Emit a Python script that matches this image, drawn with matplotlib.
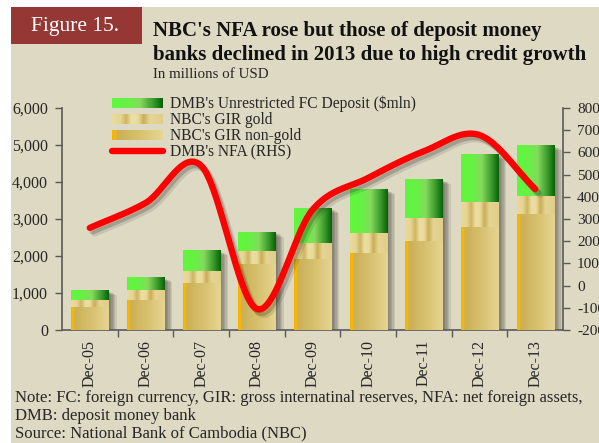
import numpy as np
import matplotlib
matplotlib.use('Agg')
import matplotlib.pyplot as plt
from matplotlib.patches import Rectangle, Patch
from matplotlib.lines import Line2D
from matplotlib.legend_handler import HandlerBase
from matplotlib.colors import to_rgb
import matplotlib.patheffects as pe
from matplotlib.ticker import FuncFormatter

# ---------------- data ----------------
categories = ['Dec-05', 'Dec-06', 'Dec-07', 'Dec-08', 'Dec-09',
              'Dec-10', 'Dec-11', 'Dec-12', 'Dec-13']
gir_nongold = [620, 810, 1280, 1790, 1920, 2080, 2410, 2780, 3135]
gir_gold = [190, 270, 310, 340, 420, 530, 630, 680, 485]
dmb_fc_deposit = [270, 350, 570, 520, 960, 1200, 1040, 1300, 1380]
dmb_nfa = [260, 372, 540, -105, 341, 485, 605, 678, 435]
left_ticks = [0, 1000, 2000, 3000, 4000, 5000, 6000]
right_ticks = [-200, -100, 0, 100, 200, 300, 400, 500, 600, 700, 800]
legend_labels = ["DMB's Unrestricted FC Deposit ($mln)", "NBC's GIR gold",
                 "NBC's GIR non-gold", "DMB's NFA (RHS)"]

# ---------------- style ----------------
plt.rcParams['font.family'] = ['Liberation Serif', 'DejaVu Serif']
BG = '#DDD9C3'
RED_BOX = '#953735'
AX_COL = '#595959'
TXT = '#262626'
W, H = 599, 443

GREEN = [(0.0, '#5EF83C'), (0.35, '#6AEE48'), (0.55, '#86D85E'),
         (0.8, '#3C9C2C'), (1.0, '#066206')]
GOLD = [(0.0, '#E9DA9C'), (0.15, '#E6D592'), (0.27, '#CDB462'),
        (0.38, '#ECDEA2'), (0.5, '#EADB9C'), (0.62, '#C9AE58'),
        (0.75, '#E5D494'), (1.0, '#E0CE88')]
NONGOLD = [(0.0, '#F7B400'), (0.07, '#F5B808'), (0.1, '#CBAF58'),
           (0.5, '#D6BF6C'), (1.0, '#E6D592')]


def grad_colors(stops, n=256):
    pos = np.array([s[0] for s in stops])
    cols = np.array([to_rgb(s[1]) for s in stops])
    t = np.linspace(0, 1, n)
    return np.stack([np.interp(t, pos, cols[:, k]) for k in range(3)], axis=1)


class GradHandler(HandlerBase):
    def __init__(self, stops, n=48):
        super().__init__()
        self.stops = stops
        self.n = n

    def create_artists(self, legend, orig_handle, xdescent, ydescent,
                       width, height, fontsize, trans):
        cols = grad_colors(self.stops, self.n)
        arts = []
        for i in range(self.n):
            r = Rectangle((-xdescent + width * i / self.n, -ydescent),
                          width / self.n * 1.1, height, facecolor=cols[i],
                          edgecolor='none', transform=trans)
            arts.append(r)
        return arts


def catmull_rom(ys, n=40):
    ys = np.asarray(ys, dtype=float)
    m = np.zeros_like(ys)
    m[1:-1] = (ys[2:] - ys[:-2]) / 2.0
    m[0] = ys[1] - ys[0]
    m[-1] = ys[-1] - ys[-2]
    xs_out, ys_out = [], []
    for i in range(len(ys) - 1):
        t = np.linspace(0, 1, n, endpoint=(i == len(ys) - 2))
        h00 = 2 * t**3 - 3 * t**2 + 1
        h10 = t**3 - 2 * t**2 + t
        h01 = -2 * t**3 + 3 * t**2
        h11 = t**3 - t**2
        xs_out.append(i + t)
        ys_out.append(h00 * ys[i] + h10 * m[i] + h01 * ys[i + 1] + h11 * m[i + 1])
    return np.concatenate(xs_out), np.concatenate(ys_out)


fig = plt.figure(figsize=(W / 100, H / 100), dpi=100)
fig.patch.set_facecolor('white')
fig.add_artist(Rectangle((11 / W, 0), 1 - 11 / W, 1 - 7 / H,
                         transform=fig.transFigure, facecolor=BG,
                         edgecolor='none', zorder=-10))
fig.add_artist(Rectangle((11 / W, 1 - 44 / H), 131 / W, 37 / H,
                         transform=fig.transFigure, facecolor=RED_BOX,
                         edgecolor='none', zorder=-9))
fig.text(75 / W, 1 - 26 / H, 'Figure 15.', color='white', fontsize=15.5,
         ha='center', va='center')
fig.text(153 / W, 1 - 31 / H, "NBC's NFA rose but those of deposit money",
         fontsize=15, fontweight='bold', color='#111111', va='center')
fig.text(153 / W, 1 - 55 / H, "banks declined in 2013 due to high credit growth",
         fontsize=15, fontweight='bold', color='#111111', va='center')
fig.text(153 / W, 1 - 74 / H, 'In millions of USD', fontsize=10.8,
         color=TXT, va='center')

notes = ["Note: FC: foreign currency, GIR: gross internatinal reserves, NFA: net foreign assets,",
         "DMB: deposit money bank",
         "Source: National Bank of Cambodia (NBC)"]
for txt, yy in zip(notes, [398, 415.5, 433]):
    fig.text(15 / W, 1 - yy / H, txt, fontsize=12, color=TXT, va='center')

ax = fig.add_axes([62 / W, 1 - 330 / H, 501 / W, 222 / H])
ax.set_facecolor('none')
x = np.arange(len(categories))
bw = 0.665
ng = np.array(gir_nongold, float)
gd = np.array(gir_gold, float)
fc = np.array(dmb_fc_deposit, float)
total = ng + gd + fc

shadow_fx = [pe.SimplePatchShadow(offset=(o, -o * 0.6), shadow_rgbFace='black', alpha=0.09)
             for o in (1, 2, 3, 4, 5, 6)]
ax.bar(x, total, bw, color=BG, zorder=1, path_effects=shadow_fx)

segs = [(ax.bar(x, ng, bw, color='#D6BF6C', zorder=2), NONGOLD),
        (ax.bar(x, gd, bw, bottom=ng, color='#E6D592', zorder=2), GOLD),
        (ax.bar(x, fc, bw, bottom=ng + gd, color='#6AEE48', zorder=2), GREEN)]
for bars, stops in segs:
    img = grad_colors(stops)[np.newaxis, :, :]
    for p in bars:
        x0, y0, ww, hh = p.get_x(), p.get_y(), p.get_width(), p.get_height()
        im = ax.imshow(img, extent=[x0, x0 + ww, y0, y0 + hh], aspect='auto',
                       interpolation='bilinear', zorder=3)
        im.set_clip_path(p)

ax.set_xlim(-0.5, len(categories) - 0.5)
ax.set_ylim(0, 6000)
ax.set_yticks(left_ticks)
ax.yaxis.set_major_formatter(FuncFormatter(lambda v, p: f'{v:,.0f}'))
ax.set_xticks(x)
ax.set_xticklabels(categories, rotation=90)
ax.set_xticks(np.arange(0.5, len(categories) - 1, 1.0), minor=True)
ax.tick_params(axis='x', which='major', length=0, pad=7, labelsize=11.5,
               labelcolor=TXT)
ax.tick_params(axis='x', which='minor', length=5, direction='out',
               color=AX_COL, width=1)
ax.tick_params(axis='y', length=5, direction='out', color=AX_COL, width=1,
               pad=5, labelsize=11.5, labelcolor=TXT)
for s in ['top', 'right']:
    ax.spines[s].set_visible(False)
for s in ['left', 'bottom']:
    ax.spines[s].set_color(AX_COL)
    ax.spines[s].set_linewidth(1.2)

ax2 = ax.twinx()
ax2.set_facecolor('none')
xs_s, ys_s = catmull_rom(dmb_nfa)
line_fx = [pe.SimpleLineShadow(offset=(2, -2.5), shadow_color='black', alpha=0.18),
           pe.SimpleLineShadow(offset=(3.5, -4), shadow_color='black', alpha=0.10),
           pe.Normal()]
ax2.plot(xs_s, ys_s, color='#FF0000', lw=4.6, solid_capstyle='round',
         zorder=5, path_effects=line_fx)
ax2.set_ylim(-200, 800)
ax2.set_yticks(right_ticks)
ax2.set_yticklabels([str(v) for v in right_ticks])
ax2.tick_params(axis='y', length=5, direction='out', color=AX_COL, width=1,
                pad=5, labelsize=11, labelcolor=TXT)
for s in ['top', 'left', 'bottom']:
    ax2.spines[s].set_visible(False)
ax2.spines['right'].set_color(AX_COL)
ax2.spines['right'].set_linewidth(1.2)

h_fc = Patch(label=legend_labels[0])
h_gd = Patch(label=legend_labels[1])
h_ng = Patch(label=legend_labels[2])
h_ln = Line2D([], [], color='#FF0000', lw=4.6, solid_capstyle='round',
              label=legend_labels[3])
ax2.legend(handles=[h_fc, h_gd, h_ng, h_ln],
           handler_map={h_fc: GradHandler(GREEN), h_gd: GradHandler(GOLD),
                        h_ng: GradHandler(NONGOLD)},
           loc='upper left', bbox_to_anchor=(112 / W, 1 - 96 / H),
           bbox_transform=fig.transFigure, frameon=False, borderpad=0,
           borderaxespad=0, handlelength=3.3, handleheight=0.55,
           handletextpad=0.42, labelspacing=0.0, fontsize=11.2,
           labelcolor=TXT)

fig.savefig('out.png', dpi=100, facecolor=fig.get_facecolor())
